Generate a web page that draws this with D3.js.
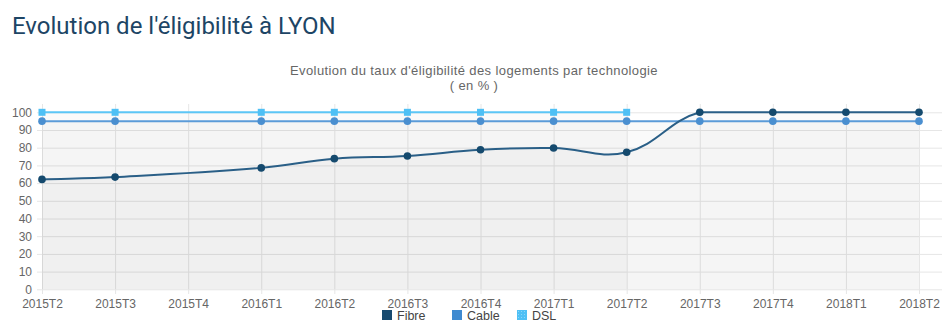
<!DOCTYPE html>
<html>
<head>
<meta charset="utf-8">
<script src="https://cdn.jsdelivr.net/npm/d3@7"></script>
<style>
  body { margin: 0; background: #fff; }
  svg { display: block; }
</style>
</head>
<body>
<div id="chart"></div>
<script>
// Data
let periods = [
  "2015T2", "2015T3", "2015T4", "2016T1", "2016T2", "2016T3", "2016T4",
  "2017T1", "2017T2", "2017T3", "2017T4", "2018T1", "2018T2",
];
let fibre = [62.1, 63.4, null, 68.6, 73.8, 75.3, 78.8, 79.8, 77.4, 100, 100, 100, 100];
let cable = [95, 95, null, 95, 95, 95, 95, 95, 95, 95, 95, 95, 95];
let dsl = [100, 100, null, 100, 100, 100, 100, 100, 100, null, null, null, null];
let yTicks = [0, 10, 20, 30, 40, 50, 60, 70, 80, 90, 100];

let W = 952, H = 331;
let plot = { left: 42, right: 919, top: 104, bottom: 289.3, gridRight: 942 };

let svg = d3.select("#chart").append("svg").attr("width", W).attr("height", H);

let x = d3.scalePoint().domain(periods).range([plot.left, plot.right]);
let y = d3.scaleLinear().domain([0, 100]).range([plot.bottom, 112.3]);

// Page title
svg.append("text")
  .attr("x", 12)
  .attr("y", 34.3)
  .style("font-family", "Roboto")
  .style("font-size", "24px")
  .style("fill", "#1d4565")
  .text("Evolution de l'éligibilité à LYON");

// Chart title
svg.append("text")
  .attr("text-anchor", "middle")
  .style("font-family", "Liberation Sans, Arial, sans-serif")
  .style("font-size", "13px")
  .style("letter-spacing", "0.4px")
  .style("fill", "#666")
  .selectAll("tspan")
  .data(["Evolution du taux d'éligibilité des logements par technologie", "( en % )"])
  .enter()
  .append("tspan")
  .attr("x", 474)
  .attr("y", (d, i) => (i === 0 ? 75 : 90))
  .text((d) => d);

// Y axis + horizontal gridlines
let yAxis = svg.append("g")
  .attr("transform", `translate(37,0)`)
  .call(d3.axisLeft(y).tickValues(yTicks).tickSizeInner(-(plot.gridRight - 37)).tickSizeOuter(0).tickPadding(5));
yAxis.select(".domain").remove();
yAxis.selectAll(".tick line").attr("stroke", "#e6e6e6");
yAxis.selectAll(".tick text")
  .style("font-family", "Liberation Sans, Arial, sans-serif")
  .style("font-size", "12px")
  .style("fill", "#666");

// X axis + vertical gridlines
let xAxis = svg.append("g")
  .attr("transform", `translate(0,294)`)
  .call(d3.axisBottom(x).tickSizeInner(-(294 - plot.top)).tickSizeOuter(0).tickPadding(5));
xAxis.select(".domain").remove();
xAxis.selectAll(".tick line").attr("stroke", "#e6e6e6");
xAxis.selectAll(".tick text")
  .style("font-family", "Liberation Sans, Arial, sans-serif")
  .style("font-size", "12px")
  .style("fill", "#666");

let series = [
  { name: "DSL", values: dsl, line: "#5cc6f6", point: "#4fc0f5", shape: "square" },
  { name: "Cable", values: cable, line: "#5b9bd8", point: "#4a8fd0", shape: "circle" },
  { name: "Fibre", values: fibre, line: "#2a5f87", point: "#154a6e", shape: "circle" },
];

// Spline like the original (tension 0.4, control points kept inside the chart area)
function splinePath(pts, closeToBase) {
  let p = pts.map((d) => [x(d.p), y(d.v)]);
  let t = 0.4;
  let top = y(100), bot = y(0);
  let clamp = (v) => Math.max(top, Math.min(bot, v));
  let cps = p.map((cur, i) => {
    let prev = p[i - 1] || cur, next = p[i + 1] || cur;
    let d01 = Math.hypot(cur[0] - prev[0], cur[1] - prev[1]);
    let d12 = Math.hypot(next[0] - cur[0], next[1] - cur[1]);
    let s01 = d01 / (d01 + d12 || 1), s12 = d12 / (d01 + d12 || 1);
    let fa = t * s01, fb = t * s12;
    return {
      prev: [cur[0] - fa * (next[0] - prev[0]), clamp(cur[1] - fa * (next[1] - prev[1]))],
      next: [cur[0] + fb * (next[0] - prev[0]), clamp(cur[1] + fb * (next[1] - prev[1]))],
    };
  });
  let path = d3.path();
  path.moveTo(p[0][0], p[0][1]);
  for (let i = 1; i < p.length; i++) {
    path.bezierCurveTo(cps[i - 1].next[0], cps[i - 1].next[1], cps[i].prev[0], cps[i].prev[1], p[i][0], p[i][1]);
  }
  if (closeToBase) {
    path.lineTo(p[p.length - 1][0], bot);
    path.lineTo(p[0][0], bot);
    path.closePath();
  }
  return path.toString();
}

// Filled areas (all first)
series.forEach((s) => {
  s.pts = periods.map((p, i) => ({ p: p, v: s.values[i] })).filter((d) => d.v != null);
  svg.append("path")
    .attr("d", splinePath(s.pts, true))
    .attr("fill", "rgba(0,0,0,0.018)");
});

// Lines and points (Fibre on top)
series.forEach((s) => {
  svg.append("path")
    .attr("d", splinePath(s.pts, false))
    .attr("fill", "none")
    .attr("stroke", s.line)
    .attr("stroke-width", 2);

  if (s.shape === "square") {
    svg.selectAll(null)
      .data(s.pts)
      .enter()
      .append("rect")
      .attr("x", (d) => x(d.p) - 3.5)
      .attr("y", (d) => y(d.v) - 3.5)
      .attr("width", 7)
      .attr("height", 7)
      .attr("fill", s.point);
  } else {
    svg.selectAll(null)
      .data(s.pts)
      .enter()
      .append("circle")
      .attr("cx", (d) => x(d.p))
      .attr("cy", (d) => y(d.v))
      .attr("r", 3.8)
      .attr("fill", s.point);
  }
});

// Legend
let defs = svg.append("defs");
let pat = defs.append("pattern")
  .attr("id", "dots")
  .attr("width", 3)
  .attr("height", 3)
  .attr("patternUnits", "userSpaceOnUse");
pat.append("rect").attr("width", 3).attr("height", 3).attr("fill", "#4fc0f5");
pat.append("rect").attr("x", 1).attr("y", 1).attr("width", 1).attr("height", 1).attr("fill", "#8ad6f9");

let legendItems = [
  { name: "Fibre", fill: "#174a6f", at: 382 },
  { name: "Cable", fill: "#3f8ad0", at: 452 },
  { name: "DSL", fill: "url(#dots)", at: 517 },
];

let legend = svg.selectAll(".legend")
  .data(legendItems)
  .enter()
  .append("g")
  .attr("class", "legend")
  .attr("transform", (d) => `translate(${d.at},310)`);

legend.append("rect").attr("width", 10).attr("height", 10).attr("fill", (d) => d.fill);
legend.append("text")
  .attr("x", 15)
  .attr("y", 10)
  .style("font-family", "Liberation Sans, Arial, sans-serif")
  .style("font-size", "12.5px")
  .style("fill", "#444")
  .text((d) => d.name);
</script>
</body>
</html>
